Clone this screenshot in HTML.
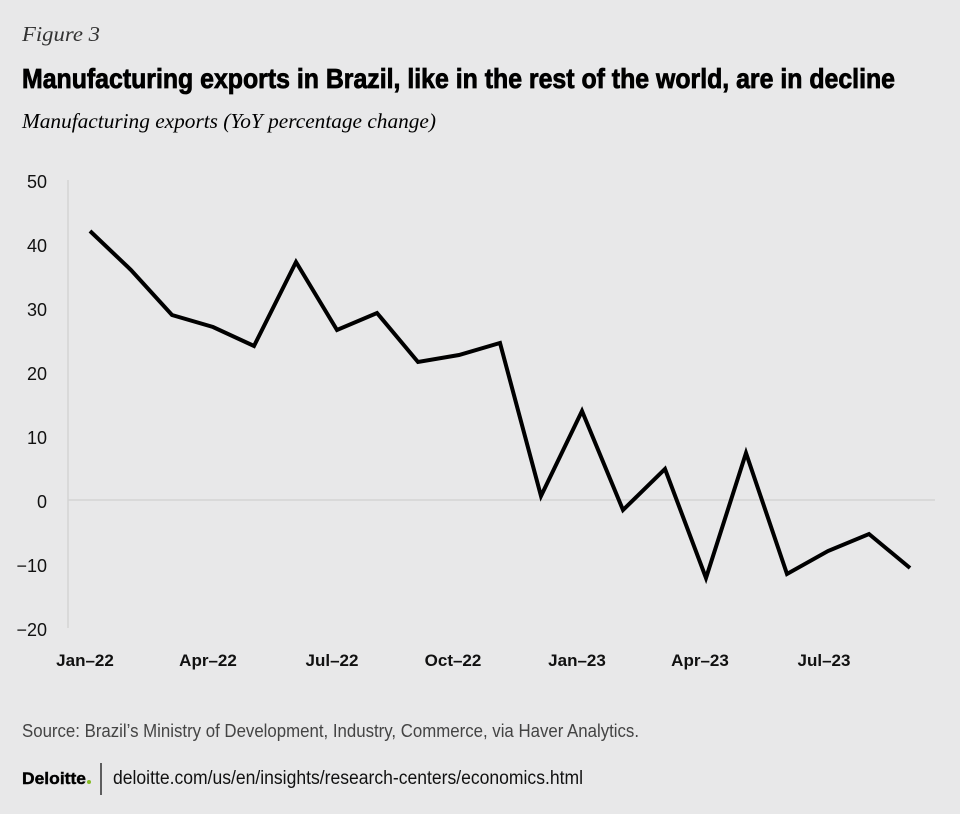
<!DOCTYPE html>
<html><head><meta charset="utf-8"><style>
html,body{margin:0;padding:0;background:#e8e8e9;}
svg{display:block}
</style></head><body>
<svg width="960" height="814" viewBox="0 0 960 814" xmlns="http://www.w3.org/2000/svg" font-family="Liberation Sans, sans-serif">
<rect width="960" height="814" fill="#e8e8e9"/>
<text x="22" y="41" font-family="Liberation Serif, serif" font-style="italic" font-size="21" fill="#333" textLength="78" lengthAdjust="spacingAndGlyphs">Figure 3</text>
<text x="22" y="88" font-size="28" font-weight="bold" fill="#000" stroke="#000" stroke-width="0.8" textLength="873" lengthAdjust="spacingAndGlyphs">Manufacturing exports in Brazil, like in the rest of the world, are in decline</text>
<text x="22" y="128" font-family="Liberation Serif, serif" font-style="italic" font-size="21" fill="#000" textLength="414" lengthAdjust="spacingAndGlyphs">Manufacturing exports (YoY percentage change)</text>
<line x1="68" y1="180" x2="68" y2="628" stroke="#d4d4d4" stroke-width="1.5"/>
<line x1="68" y1="500" x2="935" y2="500" stroke="#d4d4d4" stroke-width="1.5"/>
<g font-size="18" fill="#111" text-anchor="end">
<text x="47" y="188">50</text><text x="47" y="252">40</text><text x="47" y="316">30</text><text x="47" y="380">20</text><text x="47" y="444">10</text><text x="47" y="508">0</text><text x="47" y="572">−10</text><text x="47" y="636">−20</text>
</g>
<g font-size="17" font-weight="bold" fill="#111" text-anchor="middle">
<text x="85" y="666">Jan–22</text><text x="208" y="666">Apr–22</text><text x="332" y="666">Jul–22</text><text x="453" y="666">Oct–22</text><text x="577" y="666">Jan–23</text><text x="700" y="666">Apr–23</text><text x="824" y="666">Jul–23</text>
</g>
<polyline fill="none" stroke="#000" stroke-width="4" stroke-linejoin="miter" points="90,231 131,270 172,315 213,327 254,346 296,262 337,330 377,313 418,362 459,355 500,343 541,496 582,411 623,510 665,469 706,578 746,453 787,574 828,551 869,534 910,568"/>
<text x="22" y="737" font-size="18" fill="#444" textLength="617" lengthAdjust="spacingAndGlyphs">Source: Brazil’s Ministry of Development, Industry, Commerce, via Haver Analytics.</text>
<text x="22" y="784" font-size="17" font-weight="bold" fill="#000" stroke="#000" stroke-width="0.4" textLength="64" lengthAdjust="spacingAndGlyphs">Deloitte</text>
<circle cx="89" cy="782" r="2" fill="#86bc25"/>
<line x1="101" y1="763" x2="101" y2="795" stroke="#000" stroke-width="1.2"/>
<text x="113" y="784" font-size="19" fill="#111" textLength="470" lengthAdjust="spacingAndGlyphs">deloitte.com/us/en/insights/research-centers/economics.html</text>
</svg>
</body></html>
